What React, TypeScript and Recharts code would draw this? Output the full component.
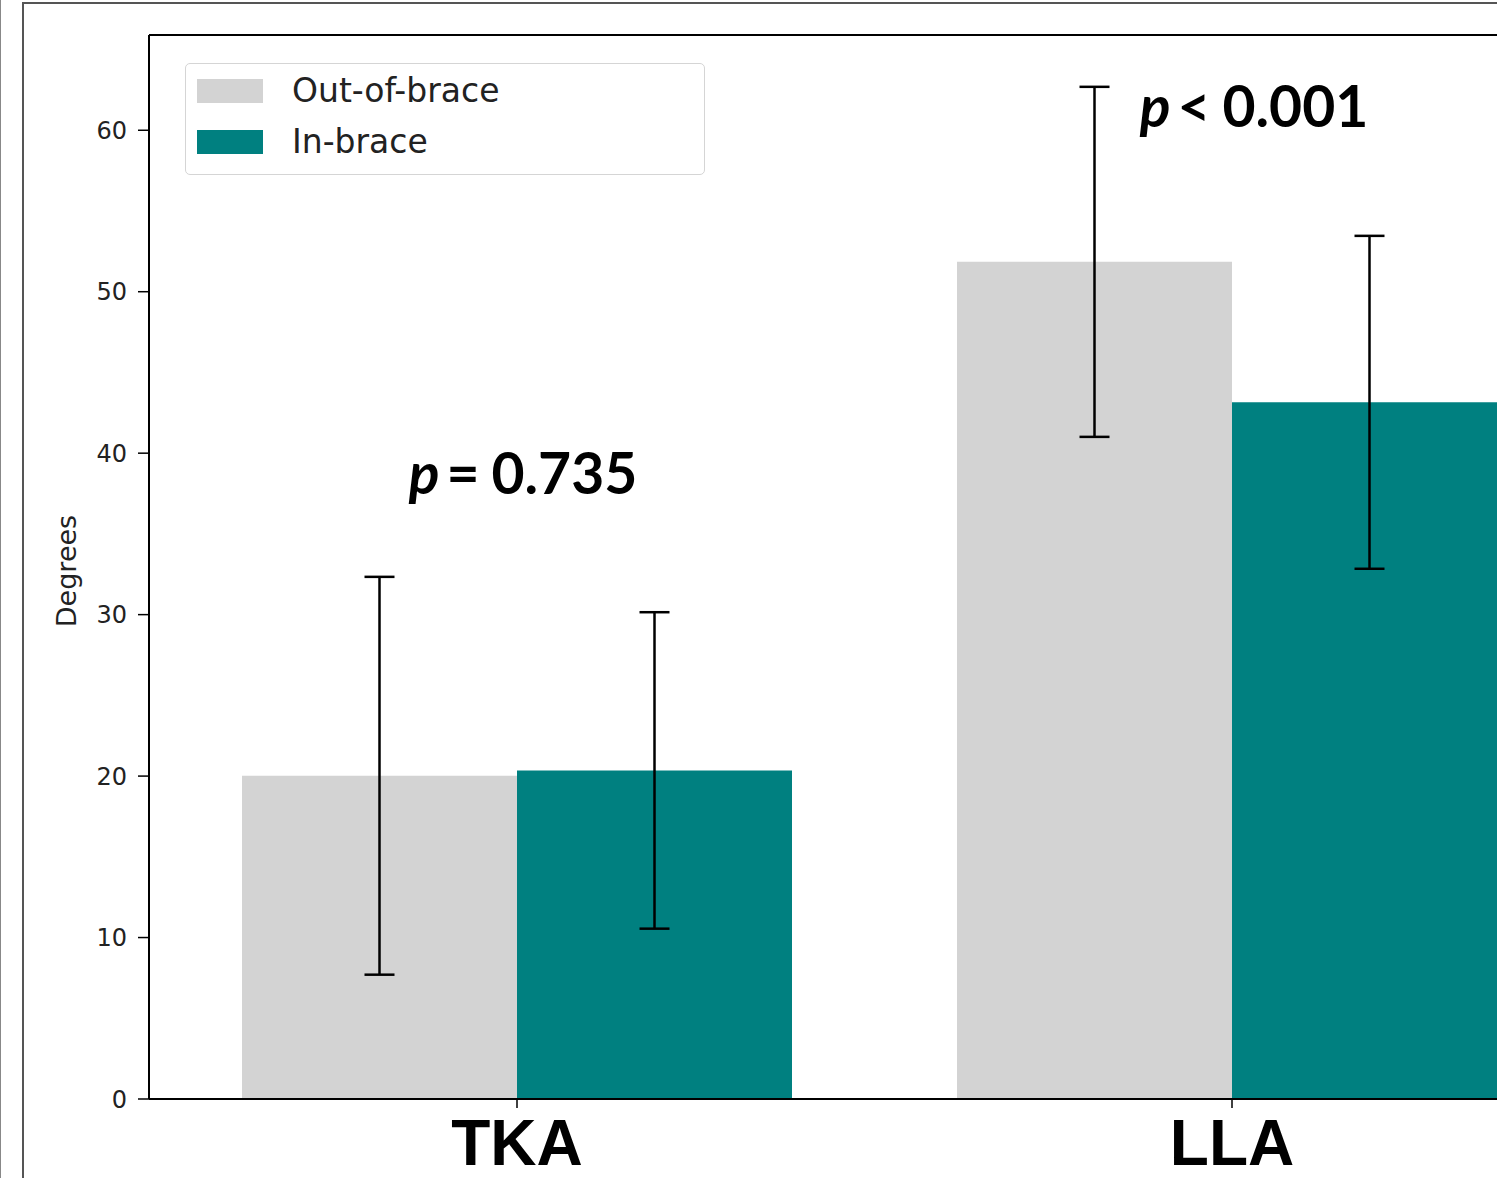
import React from "react";
import {
  BarChart,
  Bar,
  XAxis,
  YAxis,
  ErrorBar,
  Legend,
  ReferenceDot,
  ReferenceLine,
} from "recharts";

const CATEGORIES = ["TKA", "LLA"];
const SERIES_NAMES = ["Out-of-brace", "In-brace"];
const OUT_OF_BRACE = [20.02, 51.85];
const OUT_OF_BRACE_ERR = [12.32, 10.84];
const IN_BRACE = [20.35, 43.15];
const IN_BRACE_ERR = [9.8, 10.31];
const Y_TICKS = [0, 10, 20, 30, 40, 50, 60];
const Y_MAX = 65.9;
const P_LABELS = [
  { op: "=", value: "0.735" },
  { op: "<", value: "0.001" },
];
const P_LABEL_Y = [37.5, 60.2];

const COLORS = {
  out: "#d3d3d3",
  in: "#008080",
};

const data = CATEGORIES.map((name, i) => ({
  name,
  out: OUT_OF_BRACE[i],
  outErr: OUT_OF_BRACE_ERR[i],
  in: IN_BRACE[i],
  inErr: IN_BRACE_ERR[i],
}));

function LegendBox({ payload }: any) {
  const items = [...(payload || [])].sort(
    (a: any, b: any) => SERIES_NAMES.indexOf(a.value) - SERIES_NAMES.indexOf(b.value)
  );
  return (
    <div
      style={{
        width: 520,
        height: 112,
        border: "1.5px solid #d5d5d5",
        borderRadius: 5,
        background: "rgba(255,255,255,0.8)",
        boxSizing: "border-box",
        position: "relative",
        fontFamily: "DejaVu Sans",
        fontSize: 33,
        color: "#222",
      }}
    >
      {items.map((item: any, i: number) => (
        <div
          key={item.value}
          style={{
            position: "absolute",
            left: 11,
            top: 15 + i * 51,
            display: "flex",
            alignItems: "center",
            height: 24,
          }}
        >
          <span
            style={{
              display: "inline-block",
              width: 66,
              height: 24,
              background: item.color,
            }}
          />
          <span style={{ marginLeft: 29, lineHeight: "24px" }}>{item.value}</span>
        </div>
      ))}
    </div>
  );
}

function PLabel({ viewBox, op, value, dx }: any) {
  if (!viewBox) return null;
  return (
    <text
      x={viewBox.x + dx}
      y={viewBox.y}
      textAnchor="middle"
      fontFamily="Lato"
      fontWeight={700}
      fontSize={57}
      fill="#000"
    >
      <tspan fontStyle="italic">p</tspan>
      <tspan dx={7}>{op}</tspan>
      <tspan dx={12}>{value}</tspan>
    </text>
  );
}

function DegreesLabel({ viewBox }: any) {
  if (!viewBox) return null;
  const x = viewBox.x + 66;
  const y = viewBox.y + viewBox.height / 2 + 4;
  return (
    <text
      x={x}
      y={y}
      transform={`rotate(-90, ${x}, ${y})`}
      textAnchor="middle"
      dominantBaseline="central"
      fontFamily="DejaVu Sans"
      fontSize={27}
      fill="#222"
    >
      Degrees
    </text>
  );
}

export default function App() {
  return (
    <div
      style={{
        position: "absolute",
        left: 0,
        top: 0,
        width: 1497,
        height: 1178,
        overflow: "hidden",
        background: "#fff",
      }}
    >
      <div
        style={{
          position: "absolute",
          left: 0,
          top: 0,
          width: 1,
          height: 1178,
          background: "#888",
        }}
      />
      <div
        style={{
          position: "absolute",
          left: 22,
          top: 2,
          width: 1497,
          height: 1200,
          borderLeft: "2px solid #555",
          borderTop: "2px solid #555",
        }}
      />
      <div style={{ position: "absolute", left: 0, top: 0 }}>
        <BarChart
          width={1610}
          height={1178}
          data={data}
          margin={{ top: 35, right: 10, left: 0, bottom: 9 }}
          barCategoryGap={82.5}
          barGap={0}
        >
          <XAxis
            dataKey="name"
            padding={{ left: 10.5, right: 10.5 }}
            height={70}
            axisLine={{ stroke: "#000", strokeWidth: 2 }}
            tickLine={{ stroke: "#000", strokeWidth: 1.5 }}
            tickSize={9}
            tickMargin={12}
            tick={{
              fontSize: 64,
              fontWeight: 700,
              fontFamily: "Liberation Sans",
              fill: "#000",
            }}
          />
          <YAxis
            width={149}
            domain={[0, Y_MAX]}
            ticks={Y_TICKS}
            allowDataOverflow
            axisLine={{ stroke: "#000", strokeWidth: 2 }}
            tickLine={{ stroke: "#000", strokeWidth: 1.5 }}
            tickSize={11}
            tickMargin={11}
            tick={{ fontSize: 24, fontFamily: "DejaVu Sans", fill: "#222" }}
            label={<DegreesLabel />}
          />
          <ReferenceLine y={Y_MAX} stroke="#000" strokeWidth={2} />
          <Legend
            layout="horizontal"
            verticalAlign="middle"
            align="center"
            wrapperStyle={{ left: 185, top: 63, width: 520 }}
            content={<LegendBox />}
          />
          <Bar
            dataKey="out"
            name="Out-of-brace"
            fill={COLORS.out}
            isAnimationActive={false}
          >
            <ErrorBar
              dataKey="outErr"
              width={15}
              stroke="#000"
              strokeWidth={2.5}
              direction="y"
            />
          </Bar>
          <Bar
            dataKey="in"
            name="In-brace"
            fill={COLORS.in}
            isAnimationActive={false}
          >
            <ErrorBar
              dataKey="inErr"
              width={15}
              stroke="#000"
              strokeWidth={2.5}
              direction="y"
            />
          </Bar>
          {CATEGORIES.map((cat, i) => (
            <ReferenceDot
              key={cat}
              x={cat}
              y={P_LABEL_Y[i]}
              r={0}
              fill="none"
              stroke="none"
              label={
                <PLabel
                  op={P_LABELS[i].op}
                  value={P_LABELS[i].value}
                  dx={i === 0 ? 6 : 22}
                />
              }
            />
          ))}
        </BarChart>
      </div>
    </div>
  );
}
